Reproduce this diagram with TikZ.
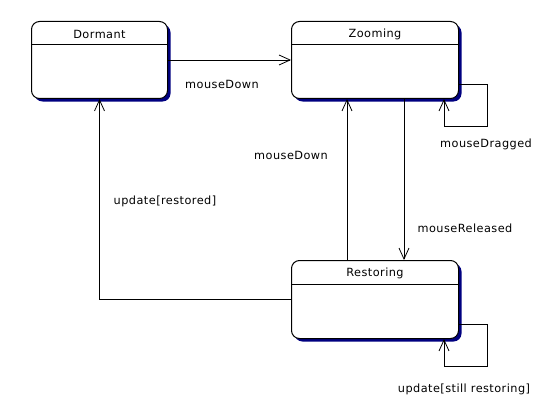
\documentclass[tikz,border=0pt]{standalone}
\usepackage{fontspec}
\setmainfont{DejaVu Sans}[LetterSpace=4]
\usetikzlibrary{arrows.meta,shadows}
\definecolor{shadownavy}{RGB}{0,0,128}
\tikzset{
  statebox/.style={draw=black, line width=1pt, rounded corners=8pt, fill=white,
    drop shadow={shadow xshift=3pt, shadow yshift=-3pt, fill=shadownavy, opacity=1},
    minimum width=#1, inner sep=0pt, anchor=north west},
  divider/.style={line width=0.8pt},
  title/.style={font=\fontsize{11.3}{13}\selectfont, inner sep=0pt},
  lbl/.style={font=\fontsize{11.3}{13}\selectfont, inner sep=0pt},
  arr/.style={line width=0.8pt, -{Straight Barb[length=11pt,width=10pt,line width=0.8pt]}},
}
\begin{document}
\begin{tikzpicture}[x=1pt,y=-1pt]
\useasboundingbox (0,0) rectangle (553,401);
% states
\node[statebox=136pt, minimum height=77pt] (D) at (31,21) {};
\node[statebox=167pt, minimum height=77pt] (Z) at (291,21) {};
\node[statebox=167pt, minimum height=78pt] (R) at (291,260) {};
% dividers and titles
\draw[divider] ([yshift=-23pt]D.north west) -- ([yshift=-23pt]D.north east);
\draw[divider] ([yshift=-23pt]Z.north west) -- ([yshift=-23pt]Z.north east);
\draw[divider] ([yshift=-24pt]R.north west) -- ([yshift=-24pt]R.north east);
\node[title] (Dt) at ([yshift=-13pt]D.north) {Dormant};
\node[title] (Zt) at ([yshift=-13pt]Z.north) {Zooming};
\node[title] (Rt) at ([yshift=-13pt]R.north) {Restoring};
% helper coordinates
\coordinate (xup) at (347,0);
\coordinate (xdown) at (404,0);
\coordinate (zl1) at (487,84);
\coordinate (zl2) at (487,126);
\coordinate (zl3) at (444,126);
\coordinate (rl1) at (487,324);
\coordinate (rl2) at (487,366);
\coordinate (rl3) at (444,366);
% transitions
\draw[arr] (D.east) -- (Z.west);
\draw[arr] (Z.east |- zl1) -- (zl1) -- (zl2) -- (zl3) -- (Z.south -| zl3);
\draw[arr] (R.north -| xup) -- (Z.south -| xup);
\draw[arr] (Z.south -| xdown) -- (R.north -| xdown);
\draw[arr] (R.west) -| (D.south);
\draw[arr] (R.east |- rl1) -- (rl1) -- (rl2) -- (rl3) -- (R.south -| rl3);
% labels
\node[lbl] (l1) at (222,84) {mouseDown};
\node[lbl] (l2) at (486,144) {mouseDragged};
\node[lbl] (l3) at (291,155) {mouseDown};
\node[lbl] (l4) at (465,228) {mouseReleased};
\node[lbl] (l5) at (165,201) {update[restored]};
\node[lbl] (l6) at (464,389) {update[still restoring]};
\end{tikzpicture}
\end{document}
